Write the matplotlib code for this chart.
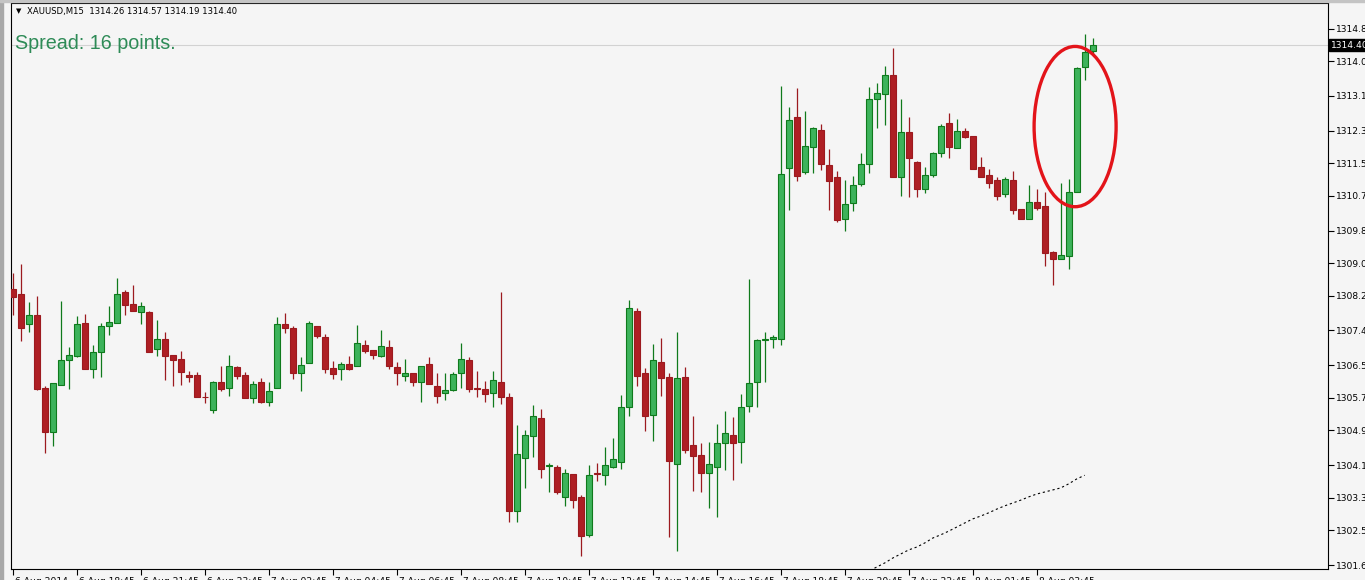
import matplotlib
matplotlib.use("Agg")
import matplotlib.pyplot as plt
from matplotlib.patches import Ellipse, Rectangle
import matplotlib.transforms as mtransforms

# ---------------- data (XAUUSD, M15) ----------------
opens = [1308.42, 1308.30, 1307.56, 1307.78, 1305.99, 1304.91, 1306.07, 1306.68, 1306.78, 1307.59,
         1306.46, 1306.88, 1307.51, 1307.59, 1308.35, 1308.05, 1307.86, 1307.86, 1306.95, 1307.19,
         1306.80, 1306.70, 1306.31, 1306.31, 1305.78, 1305.45, 1306.14, 1305.99, 1306.51, 1306.31,
         1305.75, 1306.14, 1305.65, 1305.99, 1307.56, 1307.46, 1306.36, 1306.61, 1307.51, 1307.24,
         1306.48, 1306.46, 1306.58, 1306.53, 1307.05, 1306.92, 1306.78, 1307.00, 1306.51, 1306.29,
         1306.36, 1306.14, 1306.58, 1306.04, 1305.87, 1305.94, 1306.36, 1306.68, 1305.99, 1305.97,
         1305.87, 1306.14, 1305.77, 1302.97, 1304.28, 1304.81, 1305.26, 1304.08, 1304.05, 1303.32,
         1303.88, 1303.32, 1302.39, 1303.91, 1303.86, 1304.05, 1304.18, 1305.52, 1307.88, 1306.36,
         1305.33, 1306.63, 1306.26, 1304.13, 1306.26, 1304.59, 1304.35, 1303.91, 1304.05, 1304.64,
         1304.84, 1304.67, 1305.55, 1306.14, 1307.17, 1307.19, 1307.19, 1311.39, 1312.64, 1311.29,
         1311.90, 1312.32, 1311.46, 1311.17, 1310.14, 1310.53, 1311.00, 1311.49, 1313.08, 1313.21,
         1313.67, 1311.17, 1312.27, 1311.54, 1310.87, 1311.22, 1311.76, 1312.49, 1311.88, 1312.30,
         1312.17, 1311.41, 1311.22, 1311.10, 1310.75, 1311.10, 1310.38, 1310.14, 1310.56, 1310.46,
         1309.33, 1309.16, 1309.23, 1310.80, 1313.87, 1314.26]
highs = [1308.81, 1309.03, 1308.10, 1308.25, 1306.04, 1306.12, 1308.13, 1307.00, 1307.76, 1307.81,
         1307.05, 1307.59, 1308.00, 1308.69, 1308.40, 1308.52, 1308.10, 1307.87, 1307.66, 1307.37,
         1306.81, 1306.90, 1306.41, 1306.38, 1305.89, 1306.15, 1306.53, 1306.80, 1306.53, 1306.38,
         1306.16, 1306.24, 1306.14, 1307.73, 1307.83, 1307.51, 1306.75, 1307.64, 1307.52, 1307.32,
         1306.65, 1306.63, 1306.78, 1307.54, 1307.17, 1306.93, 1307.42, 1307.17, 1306.63, 1306.70,
         1306.37, 1306.54, 1306.75, 1306.36, 1306.36, 1306.38, 1307.10, 1306.75, 1306.41, 1306.16,
         1306.41, 1308.35, 1305.87, 1305.08, 1304.96, 1305.58, 1305.48, 1304.15, 1304.10, 1304.00,
         1303.89, 1303.37, 1304.10, 1304.15, 1304.54, 1304.77, 1305.82, 1308.15, 1307.95, 1306.48,
         1307.07, 1307.22, 1306.36, 1307.37, 1306.51, 1305.31, 1304.64, 1304.67, 1305.11, 1305.43,
         1305.28, 1305.85, 1308.67, 1307.19, 1307.37, 1307.29, 1313.40, 1312.89, 1313.35, 1312.79,
         1312.38, 1312.47, 1311.86, 1311.32, 1311.10, 1311.19, 1311.75, 1313.38, 1313.47, 1313.89,
         1314.33, 1313.08, 1312.64, 1311.55, 1311.41, 1311.77, 1312.47, 1312.74, 1312.59, 1312.37,
         1312.18, 1311.66, 1311.36, 1311.17, 1311.17, 1311.32, 1310.39, 1310.97, 1310.87, 1310.80,
         1309.34, 1311.02, 1311.12, 1313.85, 1314.68, 1314.57]
lows = [1307.78, 1307.15, 1307.37, 1305.95, 1304.40, 1304.57, 1306.06, 1305.97, 1306.75, 1306.45,
        1306.24, 1306.26, 1307.29, 1307.58, 1307.78, 1307.87, 1307.56, 1306.87, 1306.78, 1306.19,
        1306.04, 1306.07, 1306.14, 1305.76, 1305.62, 1305.38, 1305.92, 1305.80, 1306.21, 1305.74,
        1305.62, 1305.62, 1305.55, 1305.98, 1307.34, 1306.21, 1305.92, 1306.60, 1307.22, 1306.36,
        1306.21, 1306.19, 1306.43, 1306.52, 1306.85, 1306.70, 1306.75, 1306.46, 1306.07, 1306.16,
        1306.04, 1305.65, 1306.08, 1305.62, 1305.70, 1305.92, 1305.99, 1305.89, 1305.77, 1305.65,
        1305.52, 1305.60, 1302.70, 1302.70, 1303.54, 1304.30, 1303.78, 1303.44, 1303.39, 1303.10,
        1303.05, 1301.87, 1302.34, 1303.71, 1303.61, 1304.04, 1304.00, 1305.31, 1306.04, 1304.94,
        1304.69, 1305.80, 1302.34, 1301.99, 1304.40, 1303.47, 1303.44, 1303.05, 1302.83, 1303.98,
        1303.74, 1304.15, 1305.40, 1305.52, 1306.14, 1306.97, 1307.05, 1310.36, 1311.07, 1311.24,
        1311.27, 1311.34, 1310.36, 1310.06, 1309.84, 1310.33, 1310.95, 1311.27, 1312.37, 1312.44,
        1311.16, 1310.70, 1310.68, 1310.68, 1310.78, 1311.17, 1311.66, 1311.64, 1311.87, 1312.12,
        1311.35, 1311.16, 1310.90, 1310.60, 1310.68, 1310.26, 1310.13, 1310.13, 1310.36, 1308.99,
        1308.52, 1309.15, 1308.91, 1310.79, 1313.55, 1314.19]
closes = [1308.22, 1307.46, 1307.78, 1305.97, 1304.91, 1306.11, 1306.68, 1306.80, 1307.56, 1306.46,
          1306.88, 1307.51, 1307.61, 1308.30, 1308.03, 1307.88, 1308.00, 1306.88, 1307.19, 1306.78,
          1306.68, 1306.38, 1306.26, 1305.77, 1305.76, 1306.14, 1305.97, 1306.53, 1306.29, 1305.75,
          1306.09, 1305.65, 1305.92, 1307.56, 1307.46, 1306.36, 1306.56, 1307.59, 1307.27, 1306.46,
          1306.34, 1306.58, 1306.46, 1307.10, 1306.90, 1306.80, 1307.02, 1306.53, 1306.36, 1306.36,
          1306.14, 1306.53, 1306.09, 1305.80, 1305.94, 1306.34, 1306.70, 1305.97, 1305.97, 1305.85,
          1306.19, 1305.77, 1302.97, 1304.37, 1304.84, 1305.31, 1304.00, 1304.10, 1303.44, 1303.91,
          1303.24, 1302.36, 1303.86, 1303.88, 1304.10, 1304.25, 1305.52, 1307.95, 1306.29, 1305.31,
          1306.68, 1306.24, 1304.20, 1306.24, 1304.47, 1304.32, 1303.91, 1304.13, 1304.64, 1304.89,
          1304.64, 1305.52, 1306.11, 1307.17, 1307.19, 1307.24, 1311.24, 1312.57, 1311.19, 1311.93,
          1312.37, 1311.49, 1311.07, 1310.11, 1310.51, 1310.97, 1311.49, 1313.08, 1313.23, 1313.67,
          1311.17, 1312.27, 1311.64, 1310.87, 1311.22, 1311.76, 1312.42, 1311.90, 1312.30, 1312.15,
          1311.36, 1311.17, 1311.02, 1310.70, 1311.12, 1310.36, 1310.14, 1310.56, 1310.41, 1309.30,
          1309.16, 1309.26, 1310.80, 1313.84, 1314.24, 1314.40]

# dotted indicator line (starts at bar index 106)
line_start = 106
line_values = [1301.43, 1301.50, 1301.60, 1301.70, 1301.82, 1301.92, 1302.02, 1302.09, 1302.19, 1302.31,
               1302.39, 1302.48, 1302.58, 1302.68, 1302.78, 1302.85, 1302.93, 1303.02, 1303.10, 1303.17,
               1303.24, 1303.32, 1303.39, 1303.44, 1303.49, 1303.54, 1303.64, 1303.76, 1303.85]

price_ticks = [1314.80, 1314.00, 1313.15, 1312.30, 1311.50, 1310.70, 1309.85, 1309.05, 1308.25,
               1307.40, 1306.55, 1305.75, 1304.95, 1304.10, 1303.30, 1302.50, 1301.65]
time_tick_bars = [0, 8, 16, 24, 32, 40, 48, 56, 64, 72, 80, 88, 96, 104, 112, 120, 128]
time_labels = ["6 Aug 2014", "6 Aug 18:45", "6 Aug 21:45", "6 Aug 23:45", "7 Aug 02:45",
               "7 Aug 04:45", "7 Aug 06:45", "7 Aug 08:45", "7 Aug 10:45", "7 Aug 12:45",
               "7 Aug 14:45", "7 Aug 16:45", "7 Aug 18:45", "7 Aug 20:45", "7 Aug 22:45",
               "8 Aug 01:45", "8 Aug 03:45"]
symbol = "XAUUSD,M15"
last_price = 1314.40
spread_points = 16

# ---------------- styling ----------------
BG = "#f5f5f5"
UP_FILL, UP_EDGE = "#3db35b", "#0f7a1c"
DN_FILL, DN_EDGE = "#ae1f24", "#9c1a1f"

W, H = 1365, 580
fig = plt.figure(figsize=(W / 100, H / 100), dpi=100, facecolor=BG)
ax_l, ax_r, ax_t, ax_b = 11, 1328, 3, 569
ax = fig.add_axes([ax_l / W, (H - ax_b) / H, (ax_r - ax_l) / W, (ax_b - ax_t) / H])
ax.set_facecolor(BG)

n = len(opens)
xs = list(range(n))
x0 = (ax_l - 12.7) / 8.0
ax.set_xlim(x0, x0 + (ax_r - ax_l) / 8.0)
ax.set_ylim(1301.552, 1315.43)

# window frame decorations
fig.patches.append(Rectangle((0, 0), 3 / W, 1, transform=fig.transFigure,
                             color="#a8a8a8", zorder=0))
fig.patches.append(Rectangle((0, 1 - 2 / H), 1, 2 / H, transform=fig.transFigure,
                             color="#c4c4c4", zorder=0))

# bid line
ax.axhline(last_price, color="#d2d2d2", lw=0.8, zorder=0)

# wicks
for i in xs:
    up = closes[i] >= opens[i]
    ax.vlines(i, lows[i], highs[i], color=UP_EDGE if up else DN_EDGE, lw=0.9, zorder=2)

# bodies
for i in xs:
    up = closes[i] >= opens[i]
    lo, hi = min(opens[i], closes[i]), max(opens[i], closes[i])
    ax.bar(i, max(hi - lo, 0.0001), bottom=lo, width=0.72,
           color=UP_FILL if up else DN_FILL, edgecolor=UP_EDGE if up else DN_EDGE,
           linewidth=0.8, zorder=3)

# dotted indicator
ax.plot(range(line_start, line_start + len(line_values)), line_values,
        color="black", lw=0.8, dashes=(2, 2.5), zorder=2)

# red ellipse annotation
ax.add_patch(Ellipse((132.8, 1312.40), width=10.25, height=3.93, fill=False,
                     edgecolor="#e3141a", lw=2.4, zorder=5))

for s in ax.spines.values():
    s.set_color("black")
    s.set_linewidth(0.8)

# y axis on right
ax.yaxis.tick_right()
ax.set_yticks(price_ticks)
ax.set_yticklabels([f"{v:.2f}" for v in price_ticks])
ax.tick_params(axis="y", direction="out", length=4, width=0.8, pad=2,
               labelsize=6.6, labelcolor="black", colors="black")

# x axis
ax.set_xticks(time_tick_bars)
ax.set_xticklabels(time_labels, ha="left")
ax.tick_params(axis="x", direction="out", length=4, width=0.8, pad=1.5,
               labelsize=6.6, colors="black")
offset = mtransforms.ScaledTranslation(2 / 72, 0, fig.dpi_scale_trans)
for lab in ax.get_xticklabels():
    lab.set_transform(lab.get_transform() + offset)

# last price box on the axis
fig.patches.append(Rectangle((1329 / W, (H - 51) / H), 36 / W, 12 / H,
                             transform=fig.transFigure, color="black", zorder=10))
fig.text(1331 / W, (H - 45) / H, f"{last_price:.2f}", color="white", fontsize=6.6,
         va="center", ha="left", zorder=11)

# header texts
ax.text(0.0035, 0.985, "\u25BC", transform=ax.transAxes, fontsize=5, va="center",
        ha="left", color="black")
ax.text(0.012, 0.985, f"{symbol}  {opens[-1]:.2f} {highs[-1]:.2f} {lows[-1]:.2f} {closes[-1]:.2f}",
        transform=ax.transAxes, fontsize=6.1, va="center", ha="left", color="black")
ax.text(0.0030, 0.929, f"Spread: {spread_points} points.", transform=ax.transAxes,
        fontsize=14.2, family="Liberation Sans", va="center", ha="left", color="#2e8b57")

fig.savefig("out.png", dpi=100, facecolor=BG)
